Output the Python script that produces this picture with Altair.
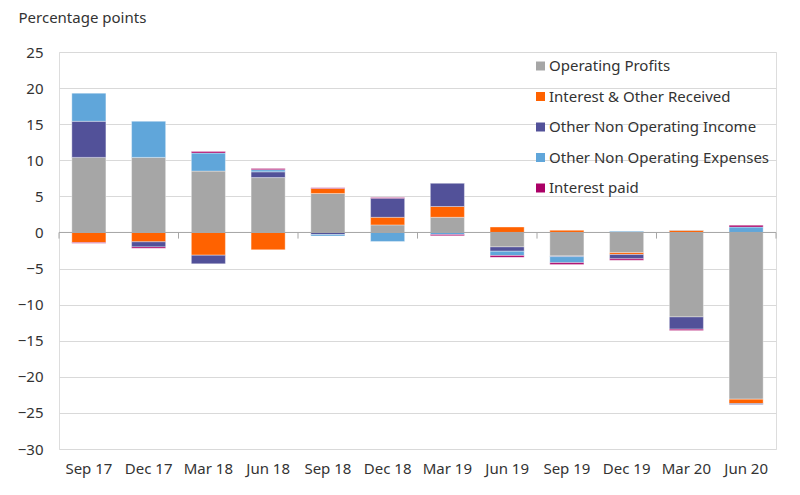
import altair as alt
import pandas as pd

categories = ["Sep 17", "Dec 17", "Mar 18", "Jun 18", "Sep 18", "Dec 18",
              "Mar 19", "Jun 19", "Sep 19", "Dec 19", "Mar 20", "Jun 20"]
series = ["Operating Profits", "Interest & Other Received", "Other Non Operating Income",
          "Other Non Operating Expenses", "Interest paid"]
colors = ["#A6A6A6", "#FF6200", "#525199", "#60A6DA", "#AB0066"]

operating_profits = [10.4, 10.4, 8.5, 7.6, 5.4, 1.05, 2.1, -2.0, -3.25, -2.8, -11.7, -23.1]
interest_received = [-1.4, -1.3, -3.15, -2.4, 0.7, 1.05, 1.5, 0.75, 0.3, -0.25, 0.3, -0.6]
other_income = [5.0, -0.7, -1.2, 0.8, -0.3, 2.65, 3.2, -0.6, -0.1, -0.6, -1.7, -0.15]
other_expenses = [3.9, 5.0, 2.5, 0.3, -0.2, -1.25, -0.3, -0.6, -0.85, 0.15, 0.05, 0.75]
interest_paid = [-0.1, -0.2, 0.2, 0.15, 0.1, 0.1, -0.15, -0.25, -0.25, -0.2, -0.2, 0.25]

y_ticks = list(range(-30, 30, 5))

rows = []
for si, (name, vals) in enumerate(zip(series, [operating_profits, interest_received,
                                                 other_income, other_expenses, interest_paid])):
    for c, v in zip(categories, vals):
        rows.append({"quarter": c, "series": name, "order": si, "value": v})
df = pd.DataFrame(rows)

FONT = "Noto Sans"
TXT = "#333333"

x_enc = alt.X("quarter:N", sort=categories,
              scale=alt.Scale(paddingInner=0, paddingOuter=0),
              axis=alt.Axis(title=None, labelAngle=0, domain=False, ticks=False, grid=False,
                            labelFontSize=15, labelColor=TXT, labelPadding=12, labelFont=FONT))
y_axis = alt.Axis(values=y_ticks, title="Percentage points", titleAngle=0,
                  titleAlign="left", titleBaseline="alphabetic",
                  titleX=-41, titleY=-30, titleFontSize=15, titleFontWeight="normal",
                  titleColor=TXT, titleFont=FONT, labelOverlap=False,
                  domain=False, ticks=False, gridColor="#D9D9D9",
                  labelFontSize=15, labelColor=TXT, labelPadding=16, labelFont=FONT)
y_scale = alt.Scale(domain=[-30, 25], nice=False)

bars = alt.Chart(df).mark_bar(width=alt.RelativeBandSize(0.57),
                              stroke="white", strokeWidth=0.6, strokeOpacity=0.6).encode(
    x=x_enc,
    y=alt.Y("value:Q", stack="zero", scale=y_scale, axis=y_axis),
    color=alt.Color("series:N", sort=series,
                    scale=alt.Scale(domain=series, range=colors),
                    legend=alt.Legend(title=None, orient="none", legendX=474, legendY=6.5,
                                      symbolType="square", symbolSize=81, symbolStrokeWidth=0,
                                      labelFontSize=15, labelColor=TXT, labelFont=FONT,
                                      labelLimit=0, rowPadding=14.5, labelOffset=1)),
    order=alt.Order("order:Q", sort="ascending"),
)

zero = alt.Chart(pd.DataFrame({"value": [0]})).mark_rule(color="#A6A6A6", strokeWidth=1).encode(
    y=alt.Y("value:Q", scale=y_scale, axis=y_axis)
)

tick_cats = categories[::2]
tick_df = pd.DataFrame({"quarter": tick_cats, "value": [0] * len(tick_cats),
                        "value2": [-0.85] * len(tick_cats)})
ticks_start = alt.Chart(tick_df).mark_rule(color="#A6A6A6", strokeWidth=1).encode(
    x=alt.X("quarter:N", sort=categories, bandPosition=0),
    y=alt.Y("value:Q", scale=y_scale, axis=y_axis),
    y2="value2:Q",
)
end_df = pd.DataFrame({"quarter": categories[-1:], "value": [0], "value2": [-0.85]})
ticks_end = alt.Chart(end_df).mark_rule(color="#A6A6A6", strokeWidth=1).encode(
    x=alt.X("quarter:N", sort=categories, bandPosition=1),
    y=alt.Y("value:Q", scale=y_scale, axis=y_axis),
    y2="value2:Q",
)

chart = alt.layer(bars, zero, ticks_start, ticks_end).properties(
    width=717, height=397,
    autosize=alt.AutoSizeParams(type="none"),
    padding={"left": 51, "top": 44, "right": 14, "bottom": 36},
).configure_view(stroke="transparent").configure(font=FONT)

chart.save("out.html", embed_options={"renderer": "svg", "actions": False})
